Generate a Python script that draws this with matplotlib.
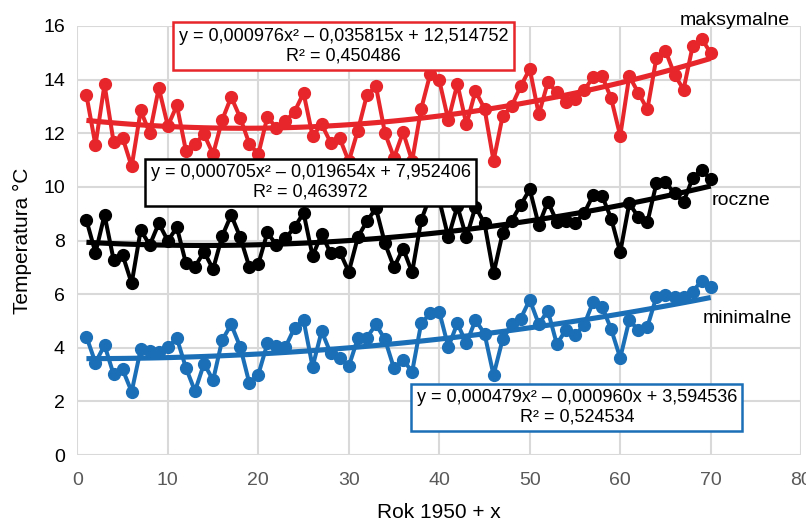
#!/usr/bin/env python3

import sys

import numpy as np
import matplotlib
matplotlib.use("Agg")
import matplotlib.pyplot as plt

# Years counted from 1950
years = list(range(1, 71))

# Maximum temperatures (maksymalne)
t_max = [13.42, 11.56, 13.82, 11.68, 11.83, 10.76, 12.85, 12.00, 13.69, 12.27,
         13.04, 11.34, 11.61, 11.96, 11.22, 12.49, 13.35, 12.58, 11.61, 11.22,
         12.61, 12.20, 12.45, 12.80, 13.50, 11.90, 12.33, 11.65, 11.81, 10.95,
         12.10, 13.42, 13.75, 12.00, 11.09, 12.04, 10.97, 12.91, 14.21, 13.97,
         12.49, 13.84, 12.33, 13.57, 12.92, 10.97, 12.64, 13.01, 13.75, 14.40,
         12.70, 13.90, 13.53, 13.16, 13.26, 13.60, 14.09, 14.13, 13.30, 11.90,
         14.13, 13.51, 12.89, 14.81, 15.08, 14.19, 13.63, 15.24, 15.53, 14.99]

# Annual mean temperatures (roczne)
t_year = [8.76, 7.54, 8.95, 7.29, 7.46, 6.40, 8.39, 7.83, 8.64, 7.99,
          8.49, 7.15, 7.02, 7.58, 6.93, 8.16, 8.95, 8.12, 7.02, 7.12,
          8.30, 7.83, 8.08, 8.49, 9.03, 7.42, 8.24, 7.52, 7.58, 6.83,
          8.12, 8.72, 9.20, 7.89, 7.00, 7.70, 6.81, 8.76, 9.66, 9.51,
          8.12, 9.28, 8.12, 9.26, 8.64, 6.77, 8.27, 8.74, 9.32, 9.91,
          8.57, 9.45, 8.70, 8.74, 8.66, 9.01, 9.69, 9.66, 8.82, 7.56,
          9.38, 8.88, 8.68, 10.13, 10.17, 9.76, 9.44, 10.32, 10.63, 10.28]

# Minimum temperatures (minimalne)
t_min = [4.41, 3.44, 4.10, 3.01, 3.19, 2.36, 3.94, 3.88, 3.85, 4.03,
         4.35, 3.25, 2.38, 3.41, 2.79, 4.28, 4.87, 4.03, 2.69, 3.00,
         4.16, 4.07, 4.03, 4.74, 5.03, 3.29, 4.62, 3.79, 3.60, 3.31,
         4.35, 4.38, 4.87, 4.31, 3.23, 3.56, 3.10, 4.91, 5.28, 5.34,
         4.03, 4.91, 4.16, 5.03, 4.53, 2.98, 4.31, 4.87, 5.09, 5.79,
         4.88, 5.38, 4.13, 4.68, 4.47, 4.84, 5.71, 5.53, 4.69, 3.62,
         5.03, 4.66, 4.78, 5.90, 5.96, 5.88, 5.90, 6.09, 6.50, 6.25]

# Polynomial trend coefficients (a2, a1, a0) as printed on the chart
coef_max = [0.000976, -0.035815, 12.514752]
coef_year = [0.000705, -0.019654, 7.952406]
coef_min = [0.000479, -0.000960, 3.594536]

eq_max = "y = 0,000976x\u00b2 \u2013 0,035815x + 12,514752\nR\u00b2 = 0,450486"
eq_year = "y = 0,000705x\u00b2 \u2013 0,019654x + 7,952406\nR\u00b2 = 0,463972"
eq_min = "y = 0,000479x\u00b2 \u2013 0,000960x + 3,594536\nR\u00b2 = 0,524534"

RED = "#e6262a"
BLACK = "#000000"
BLUE = "#1b6fb7"


def main():
    plt.rcParams['font.family'] = ['Liberation Sans', 'DejaVu Sans']

    fig = plt.figure(figsize=(8.06, 5.2), dpi=100)
    ax = fig.add_axes([0.096, 0.125, 0.898, 0.825])

    x = np.array(years)
    series = [(t_max, coef_max, RED), (t_year, coef_year, BLACK),
              (t_min, coef_min, BLUE)]
    for vals, coef, col in series:
        ax.plot(x, vals, color=col, lw=2.9, marker='o', ms=8.5,
                zorder=3, clip_on=False)
        ax.plot(x, np.polyval(coef, x), color=col, lw=3.7,
                solid_capstyle='butt', zorder=4)

    ax.set_xlim(0, 80)
    ax.set_ylim(0, 16)
    ax.set_xticks(range(0, 81, 10))
    ax.set_yticks(range(0, 17, 2))
    ax.grid(True, color='#d9d9d9', lw=1.5)
    ax.set_axisbelow(True)
    for s in ax.spines.values():
        s.set_visible(False)
    ax.tick_params(length=0, labelsize=14, pad=9)
    ax.tick_params(axis='x', labelcolor='#595959', pad=12)

    ax.set_xlabel("Rok 1950 + x", fontsize=15, labelpad=10)
    ax.set_ylabel("Temperatura \u00b0C", fontsize=15, labelpad=8)

    # Series names
    ax.text(66.6, 16.2, "maksymalne", fontsize=14, va='center',
            clip_on=False)
    ax.text(70.1, 9.5, "roczne", fontsize=14, va='center')
    ax.text(69.1, 5.1, "minimalne", fontsize=14, va='center',
            clip_on=False)

    # Trend equations
    for (tx, ty, txt, col) in [(29.4, 15.25, eq_max, RED),
                               (25.8, 10.17, eq_year, BLACK),
                               (55.2, 1.78, eq_min, BLUE)]:
        ax.text(tx, ty, txt, fontsize=13, ha='center', va='center',
                multialignment='center', linespacing=1.2, zorder=6,
                bbox=dict(boxstyle='square,pad=0.3', fc='white', ec=col,
                          lw=1.8))

    fig.savefig("out.png", dpi=100)
    return 0


if __name__ == "__main__":
    sys.exit(main())
